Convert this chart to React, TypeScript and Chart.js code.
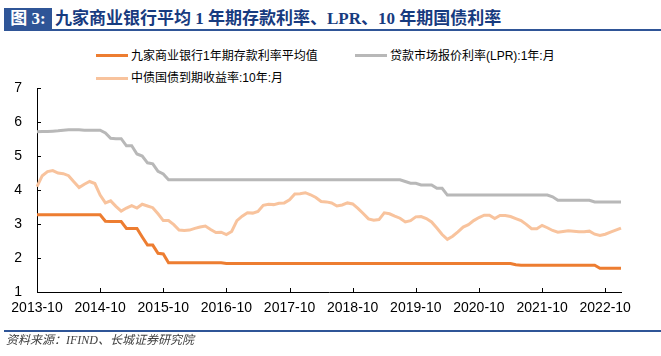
import React, { useEffect, useRef } from "react";
import { Chart, registerables } from "chart.js";

Chart.register(...registerables);

// ---- Data (monthly, 2013-10 .. 2023-01) ----
const startYear = 2013;
const startMonth = 10;

const depositRate: number[] = [
  3.27, 3.27, 3.27, 3.27, 3.27, 3.27, 3.27, 3.27, 3.27, 3.27, 3.27, 3.27, 3.27, 3.08,
  3.07, 3.07, 3.07, 2.87, 2.87, 2.87, 2.62, 2.38, 2.38, 2.14, 2.12, 1.86,
  1.86, 1.86, 1.86, 1.86, 1.86, 1.86, 1.86, 1.86, 1.86, 1.86,
  1.84, 1.84, 1.84, 1.84, 1.84, 1.84, 1.84, 1.84, 1.84, 1.84, 1.84, 1.84,
  1.84, 1.84, 1.84, 1.84, 1.84, 1.84, 1.84, 1.84, 1.84, 1.84, 1.84, 1.84,
  1.84, 1.84, 1.84, 1.84, 1.84, 1.84, 1.84, 1.84, 1.84, 1.84, 1.84, 1.84,
  1.84, 1.84, 1.84, 1.84, 1.84, 1.84, 1.84, 1.84, 1.84, 1.84, 1.84, 1.84,
  1.84, 1.84, 1.84, 1.84, 1.84, 1.84, 1.84, 1.80, 1.79, 1.79, 1.79, 1.79,
  1.79, 1.79, 1.79, 1.79, 1.79, 1.79, 1.79, 1.79, 1.79, 1.79, 1.79, 1.70,
  1.70, 1.70, 1.70, 1.70,
];

const lprRate: number[] = [
  5.71, 5.72, 5.72, 5.73, 5.74, 5.76, 5.77, 5.77, 5.77, 5.76, 5.76, 5.76, 5.76, 5.68,
  5.52, 5.51, 5.51, 5.30, 5.30, 5.06, 5.00, 4.80, 4.77, 4.55, 4.47, 4.30,
  4.30, 4.30, 4.30, 4.30, 4.30, 4.30, 4.30, 4.30, 4.30, 4.30, 4.30, 4.30,
  4.30, 4.30, 4.30, 4.30, 4.30, 4.30, 4.30, 4.30, 4.30, 4.30, 4.30, 4.30,
  4.30, 4.30, 4.30, 4.30, 4.30, 4.30, 4.30, 4.30, 4.30, 4.30, 4.30, 4.30,
  4.30, 4.30, 4.30, 4.30, 4.30, 4.30, 4.30, 4.30, 4.25, 4.20, 4.20, 4.15,
  4.15, 4.15, 4.05, 4.05, 3.85, 3.85, 3.85, 3.85, 3.85, 3.85, 3.85, 3.85,
  3.85, 3.85, 3.85, 3.85, 3.85, 3.85, 3.85, 3.85, 3.85, 3.85, 3.85, 3.85,
  3.80, 3.70, 3.70, 3.70, 3.70, 3.70, 3.70, 3.70, 3.65, 3.65, 3.65, 3.65,
  3.65, 3.65,
];

const bondYield: number[] = [
  4.10, 4.42, 4.54, 4.57, 4.50, 4.48, 4.42, 4.24, 4.07, 4.17, 4.25, 4.19,
  3.85, 3.62, 3.68, 3.52, 3.38, 3.47, 3.54, 3.47, 3.58, 3.53, 3.48, 3.30,
  3.10, 3.10, 2.98, 2.82, 2.81, 2.82, 2.87, 2.91, 2.94, 2.84, 2.75, 2.76,
  2.69, 2.78, 3.10, 3.23, 3.33, 3.32, 3.37, 3.55, 3.58, 3.57, 3.61, 3.62,
  3.71, 3.88, 3.89, 3.92, 3.86, 3.78, 3.66, 3.65, 3.62, 3.53, 3.56, 3.62,
  3.59, 3.46, 3.31, 3.15, 3.11, 3.13, 3.33, 3.30, 3.23, 3.17, 3.06, 3.10,
  3.21, 3.22, 3.16, 3.06, 2.88, 2.69, 2.55, 2.64, 2.77, 2.91, 2.98, 3.10,
  3.19, 3.26, 3.26, 3.16, 3.25, 3.25, 3.22, 3.16, 3.10, 2.99, 2.86, 2.86,
  2.96, 2.89, 2.81, 2.76, 2.78, 2.80, 2.79, 2.77, 2.77, 2.79, 2.70, 2.66,
  2.70, 2.76, 2.82, 2.88,
];

const months: string[] = Array.from({ length: bondYield.length }, (_, i) => {
  const m0 = startMonth - 1 + i;
  const y = startYear + Math.floor(m0 / 12);
  const m = (m0 % 12) + 1;
  return `${y}-${m < 10 ? "0" + m : m}`;
});

const xTickLabels: string[] = [
  "2013-10", "2014-10", "2015-10", "2016-10", "2017-10",
  "2018-10", "2019-10", "2020-10", "2021-10", "2022-10",
];
const yTickValues: number[] = [1, 2, 3, 4, 5, 6, 7];

const seriesNames: string[] = [
  "九家商业银行1年期存款利率平均值",
  "贷款市场报价利率(LPR):1年:月",
  "中债国债到期收益率:10年:月",
];
const seriesColors: string[] = ["#ED7D31", "#B8B8B8", "#F8C39D"];

const titleLabel = "图 3:";
const titleText = "九家商业银行平均 1 年期存款利率、LPR、10 年期国债利率";
const sourceText = "资料来源：IFIND、长城证券研究院";

const inwardTicks = {
  id: "inwardTicks",
  afterDraw(chart: any) {
    const { ctx, chartArea } = chart;
    const xs = chart.scales.x;
    const ys = chart.scales.y;
    ctx.save();
    ctx.strokeStyle = "#000";
    ctx.lineWidth = 1;
    ctx.beginPath();
    yTickValues.forEach((v) => {
      const y = Math.round(ys.getPixelForValue(v)) + 0.5;
      ctx.moveTo(chartArea.left, y);
      ctx.lineTo(chartArea.left + 4, y);
    });
    months.forEach((m, i) => {
      if (xTickLabels.includes(m)) {
        const x = Math.round(xs.getPixelForValue(i)) + 0.5;
        ctx.moveTo(x, chartArea.bottom);
        ctx.lineTo(x, chartArea.bottom - 4);
      }
    });
    ctx.stroke();
    ctx.restore();
  },
};

export default function App() {
  const canvasRef = useRef<HTMLCanvasElement | null>(null);

  useEffect(() => {
    if (!canvasRef.current) return;
    const datasets = [depositRate, lprRate, bondYield].map((d, k) => ({
      label: seriesNames[k],
      data: d,
      borderColor: seriesColors[k],
      backgroundColor: seriesColors[k],
      borderWidth: 3,
      pointRadius: 0,
      tension: 0,
      fill: false,
      order: k,
    }));
    const chart = new Chart(canvasRef.current, {
      type: "line",
      data: { labels: months, datasets },
      plugins: [inwardTicks],
      options: {
        responsive: false,
        animation: false,
        events: [],
        layout: { padding: { top: 88, right: 40, left: 0, bottom: 0 } },
        plugins: {
          legend: { display: false },
          title: { display: false },
          tooltip: { enabled: false },
        },
        scales: {
          x: {
            type: "category",
            offset: false,
            grid: { display: true, drawOnChartArea: false, drawTicks: false },
            border: { display: true, color: "#000", width: 1 },
            ticks: {
              autoSkip: false,
              maxRotation: 0,
              minRotation: 0,
              padding: 8,
              color: "#000",
              font: { family: "'Liberation Sans', Arial, sans-serif", size: 14 },
              callback: (_v: any, i: number) =>
                xTickLabels.includes(months[i]) ? months[i] : "",
            },
            afterFit: (scale: any) => {
              scale.height = 64;
            },
          },
          y: {
            min: 1,
            max: 7,
            grid: { display: true, drawOnChartArea: false, drawTicks: false },
            border: { display: true, color: "#000", width: 1 },
            ticks: {
              stepSize: 1,
              padding: 15,
              color: "#000",
              font: { family: "'Liberation Sans', Arial, sans-serif", size: 14 },
            },
            afterFit: (scale: any) => {
              scale.width = 37;
            },
          },
        },
      },
    });
    return () => chart.destroy();
  }, []);

  const legendText: React.CSSProperties = {
    position: "absolute",
    fontFamily: "'Liberation Sans', 'Noto Sans CJK SC', sans-serif",
    fontSize: 12,
    lineHeight: "14px",
    color: "#000",
    whiteSpace: "nowrap",
  };
  const swatch = (left: number, top: number, color: string): React.CSSProperties => ({
    position: "absolute",
    left,
    top,
    width: 32,
    height: 3,
    background: color,
  });

  return (
    <div
      style={{
        position: "absolute",
        left: 0,
        top: 0,
        width: 661,
        height: 356,
        overflow: "hidden",
        background: "#fff",
      }}
    >
      {/* Title */}
      <div
        style={{
          position: "absolute",
          left: 4,
          top: 8,
          width: 48,
          height: 22,
          background: "#2F5597",
          color: "#fff",
          fontFamily: "'Liberation Serif', 'Noto Sans CJK SC', serif",
          fontWeight: "bold",
          fontSize: 17,
          lineHeight: "22px",
          textAlign: "center",
          whiteSpace: "nowrap",
        }}
      >
        {titleLabel}
      </div>
      <div
        style={{
          position: "absolute",
          left: 55,
          top: 8,
          height: 22,
          color: "#173B7F",
          fontFamily: "'Liberation Serif', 'Noto Sans CJK SC', serif",
          fontWeight: "bold",
          fontSize: 17,
          lineHeight: "22px",
          whiteSpace: "nowrap",
        }}
      >
        {titleText}
      </div>
      <div
        style={{
          position: "absolute",
          left: 4,
          top: 29,
          width: 657,
          height: 2,
          background: "#2F5597",
        }}
      />

      {/* Legend */}
      <div style={swatch(96, 54, seriesColors[0])} />
      <div style={{ ...legendText, left: 131, top: 49 }}>{seriesNames[0]}</div>
      <div style={swatch(355, 54, seriesColors[1])} />
      <div style={{ ...legendText, left: 390, top: 49 }}>{seriesNames[1]}</div>
      <div style={swatch(96, 77, seriesColors[2])} />
      <div style={{ ...legendText, left: 131, top: 71 }}>{seriesNames[2]}</div>

      <canvas
        ref={canvasRef}
        width={661}
        height={356}
        style={{ position: "absolute", left: 0, top: 0, width: 661, height: 356 }}
      />

      {/* Footer */}
      <div
        style={{
          position: "absolute",
          left: 4,
          top: 330,
          width: 657,
          height: 2,
          background: "#2F5597",
        }}
      />
      <div
        style={{
          position: "absolute",
          left: 6,
          top: 333,
          fontFamily: "'Liberation Serif', 'Noto Sans CJK SC', serif",
          fontStyle: "italic",
          fontSize: 12,
          lineHeight: "15px",
          color: "#404040",
          whiteSpace: "nowrap",
        }}
      >
        {sourceText}
      </div>
    </div>
  );
}
